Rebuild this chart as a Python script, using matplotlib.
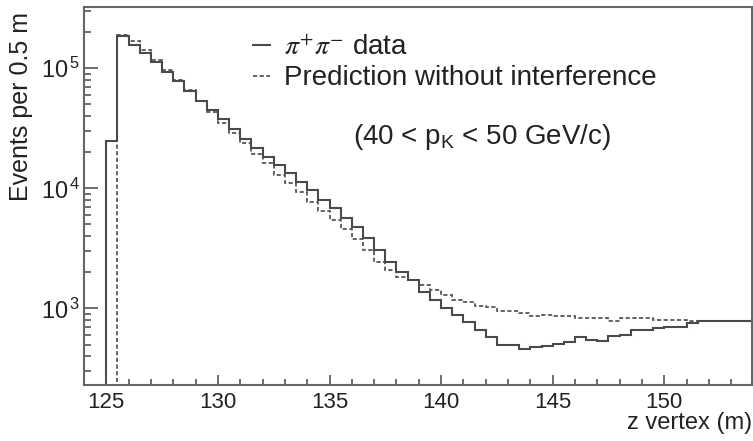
import numpy as np
import matplotlib.pyplot as plt
from matplotlib.ticker import LogLocator, MultipleLocator, FuncFormatter, NullFormatter

plt.rcParams['font.family'] = ['Liberation Sans', 'DejaVu Sans']
plt.rcParams['mathtext.fontset'] = 'stix'

# z vertex histograms, 0.5 m bins
edges_data = np.arange(125.0, 154.01, 0.5)
edges_pred = np.arange(125.5, 154.01, 0.5)

data = [25000, 184000, 156000, 134000, 112000, 94000, 78300, 65300, 53900, 44900,
        37800, 31200, 25800, 21500, 18300, 15600, 13300, 11400, 9690, 7990,
        6810, 5620, 4790, 3830, 3060, 2440, 2020, 1720, 1375, 1170,
        1000, 880, 773, 660, 580, 494, 494, 455, 473, 488,
        504, 521, 573, 544, 537, 588, 599, 660, 660, 689,
        703, 703, 759, 783, 783, 783, 783, 783]

pred = [189500, 169000, 142000, 117000, 96800, 79900, 65900, 53400, 43300,
        35000, 28900, 23900, 19300, 16300, 12900, 11100, 9310, 7690, 6470,
        5450, 4580, 3780, 3060, 2440, 2080, 1830, 1720, 1565, 1420,
        1290, 1170, 1135, 1045, 1030, 955, 955, 919, 862, 880,
        862, 862, 826, 826, 826, 789, 826, 826, 826, 799,
        799, 799, 789, 789, 789, 789, 789, 789]

line_col = '#4a4a4a'

fig = plt.figure(figsize=(7.53, 4.41), dpi=100)
ax = fig.add_axes([84 / 753, 1 - 385 / 441, 668 / 753, 378 / 441])

ax.stairs(data, edges_data, baseline=1, color=line_col, lw=1.5,
          label=r'$\pi^{+}\pi^{-}$ data')
ax.stairs(pred, edges_pred, baseline=1, color=line_col, lw=1.2,
          linestyle=(0, (2.5, 1.5)), label='Prediction without interference')

ax.set_yscale('log')
ax.set_xlim(124, 153.93)
ax.set_ylim(230, 324000)

ax.xaxis.set_major_locator(MultipleLocator(5))
ax.xaxis.set_minor_locator(MultipleLocator(1))
ax.yaxis.set_major_locator(LogLocator(base=10, numticks=10))
ax.yaxis.set_minor_locator(LogLocator(base=10, subs=np.arange(2, 10), numticks=20))
ax.yaxis.set_major_formatter(FuncFormatter(lambda v, p: r'$\mathregular{10^{\,%d}}$' % round(np.log10(v))))
ax.yaxis.set_minor_formatter(NullFormatter())

for s in ax.spines.values():
    s.set_color('#666666')
    s.set_linewidth(1.5)

ax.tick_params(axis='both', which='both', direction='in', colors='#555555',
               labelcolor='#222222', labelsize=17, width=1.2)
ax.tick_params(axis='x', which='major', length=7, pad=5, labelsize=16)
ax.tick_params(axis='x', which='minor', length=4)
ax.tick_params(axis='y', which='major', length=10, pad=3)
ax.tick_params(axis='y', which='minor', length=5)

ax.set_xlabel('z vertex (m)', fontsize=17, color='#222222', loc='right', labelpad=-1)
fig.text(0.028, 0.972, 'Events per 0.5 m', rotation=90, ha='center', va='top',
         fontsize=18, color='#222222')

leg = ax.legend(loc='upper left', bbox_to_anchor=(0.237, 0.955), frameon=False,
                fontsize=20, handlelength=0.6, handletextpad=0.5, labelspacing=0.15,
                borderaxespad=0)
for t in leg.get_texts():
    t.set_color('#222222')

ax.text(0.402, 0.655, r'(40 < $\mathregular{p_{K}}$ < 50 GeV/c)', transform=ax.transAxes,
        fontsize=20, color='#222222', ha='left', va='center')

fig.savefig('out.png', dpi=100)
